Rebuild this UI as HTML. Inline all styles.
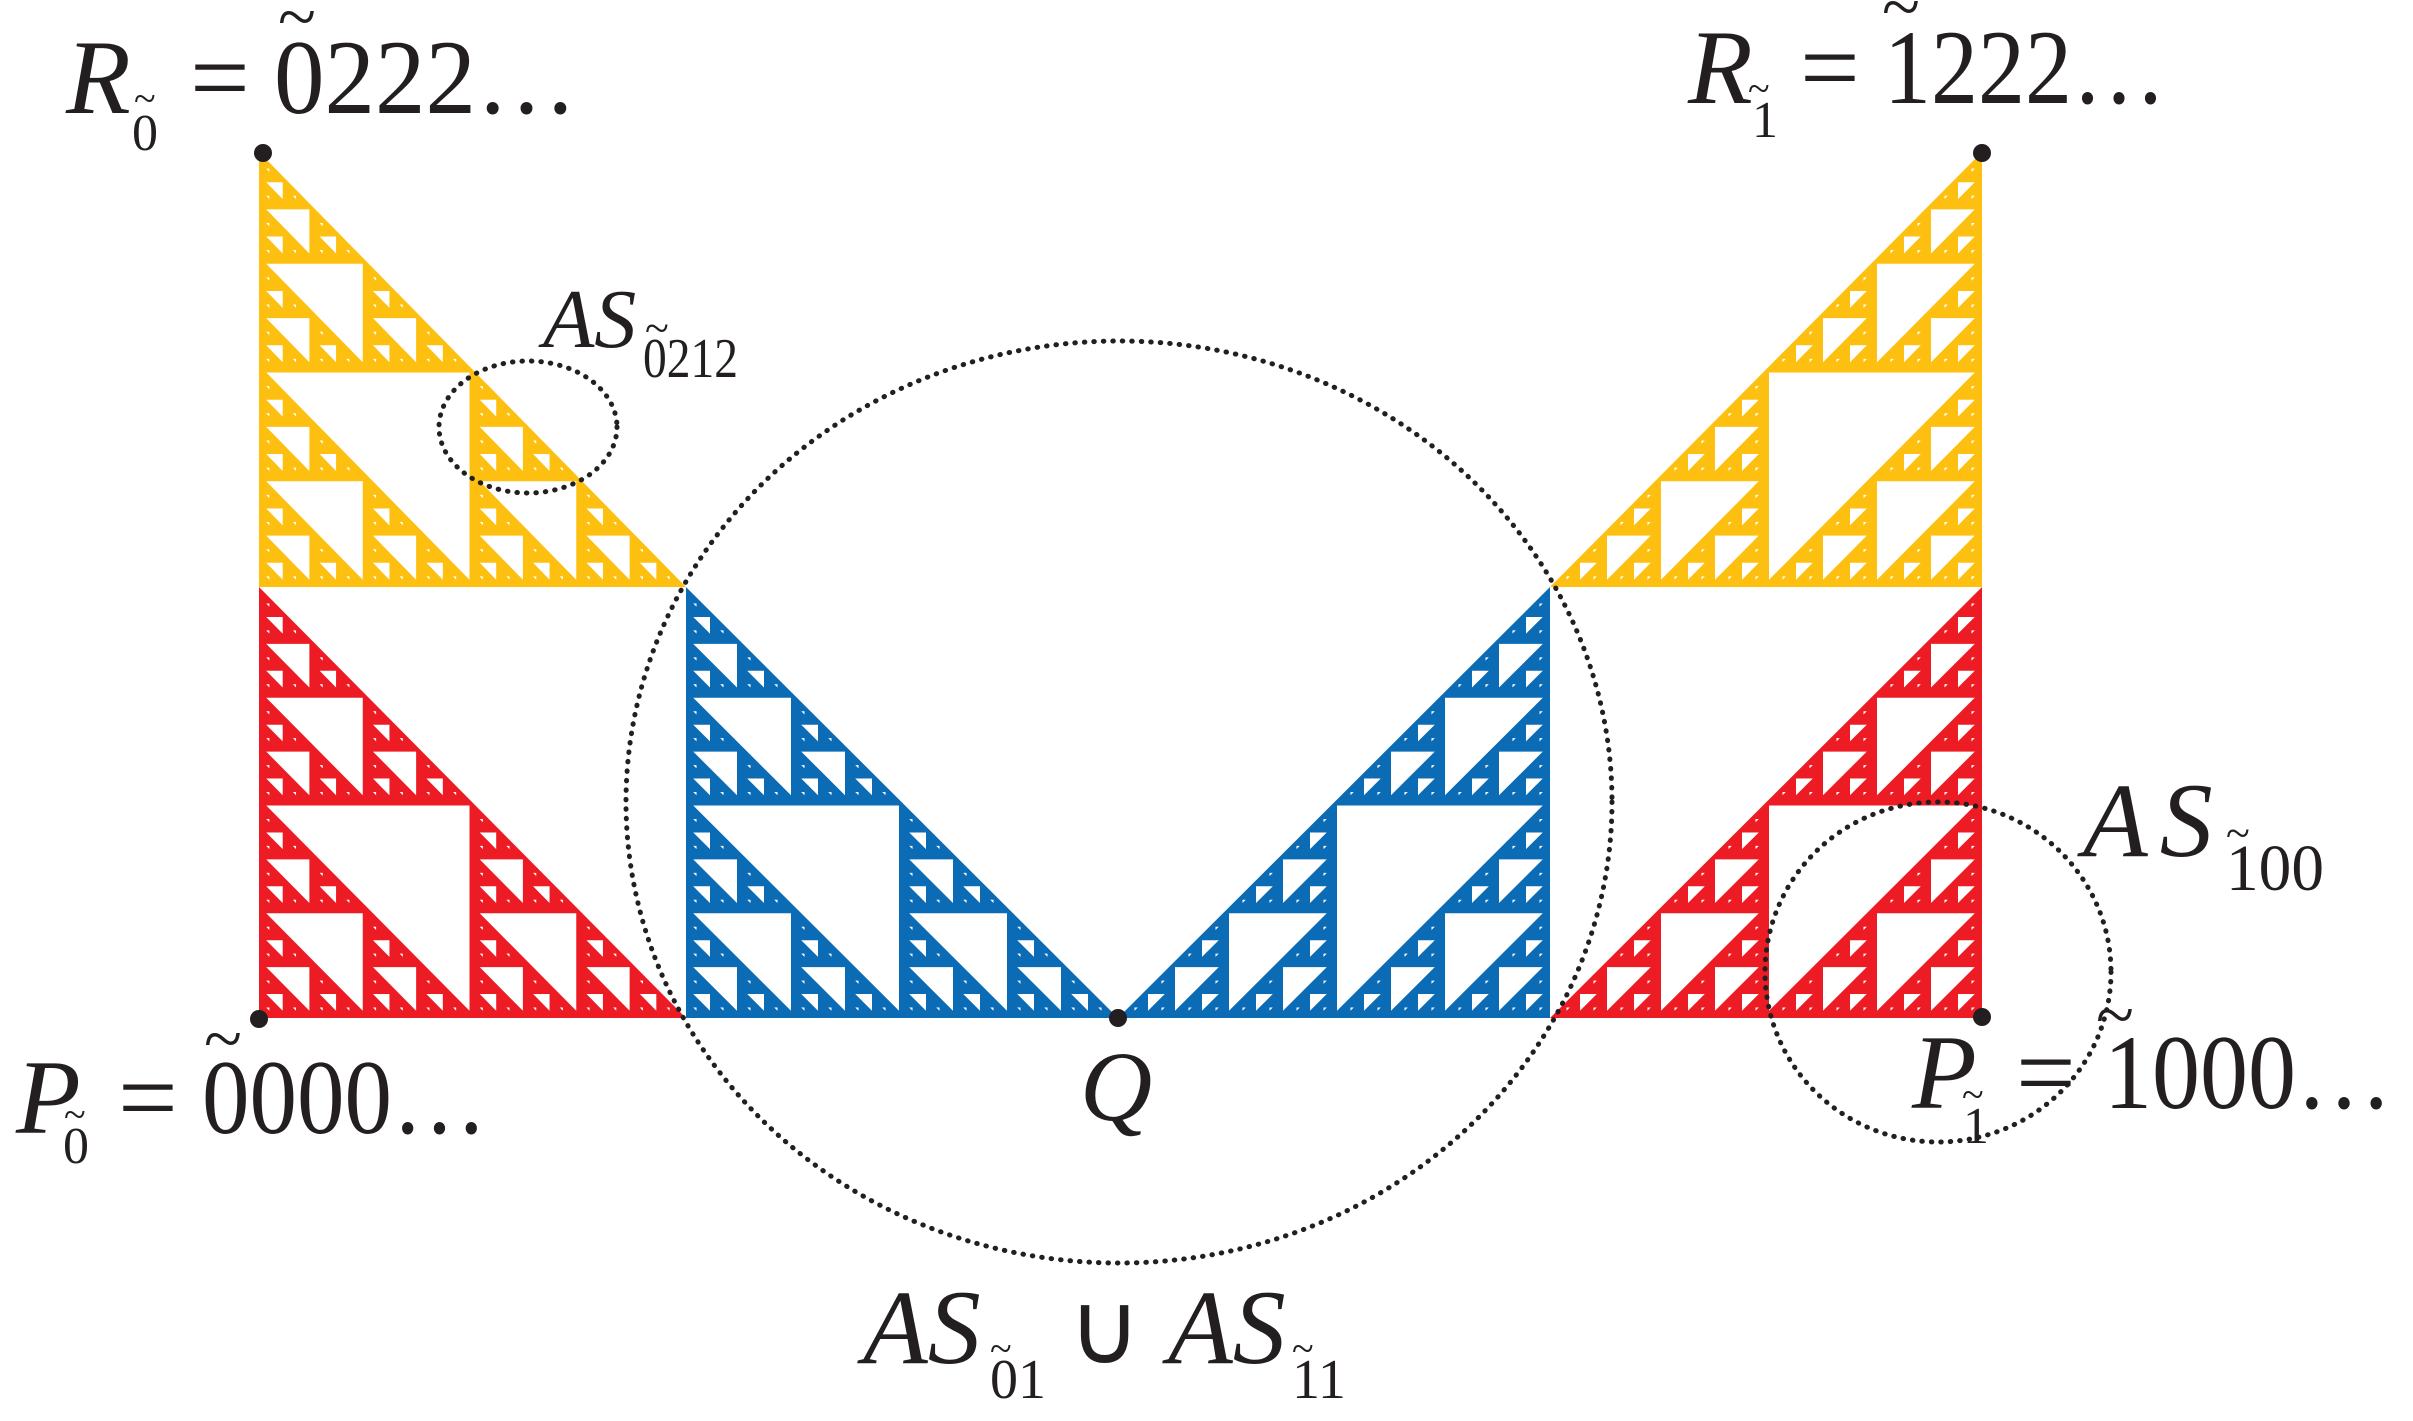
<!DOCTYPE html>
<html><head><meta charset="utf-8">
<style>
html,body{margin:0;padding:0;background:#fff;}
svg{display:block;}
text{font-family:"Liberation Serif","Times New Roman",serif;fill:#231f20;}
.i{font-style:italic;}
</style></head>
<body>
<svg id="s" width="2413" height="1421" viewBox="0 0 2413 1421" xmlns="http://www.w3.org/2000/svg">
<g id="fr"></g>
<g fill="none" stroke="#231f20" stroke-width="5" stroke-linecap="round" stroke-dasharray="0.5 9">
<ellipse cx="528" cy="427" rx="89" ry="66"/>
<ellipse cx="1119" cy="802" rx="493" ry="461"/>
<ellipse cx="1938" cy="972" rx="173" ry="170"/>
</g>
<g fill="#231f20">
<circle cx="263" cy="153" r="9"/>
<circle cx="1982" cy="153" r="9"/>
<circle cx="259" cy="1019" r="9"/>
<circle cx="1118" cy="1018" r="9"/>
<circle cx="1982" cy="1017" r="9"/>
</g>
<!-- R0 -->
<text x="66" y="113" font-size="106" class="i">R</text>
<text x="132" y="150" font-size="52">0</text>
<text x="134" y="112" font-size="40">~</text>
<text x="190" y="113" font-size="106">=</text>
<text x="274" y="113" font-size="106" textLength="303" lengthAdjust="spacingAndGlyphs">0222…</text>
<text x="278" y="40" font-size="70">~</text>
<!-- R1 -->
<text x="1688" y="103" font-size="106" class="i">R</text>
<text x="1752" y="137" font-size="52">1</text>
<text x="1748" y="102" font-size="40">~</text>
<text x="1800" y="103" font-size="106">=</text>
<text x="1884" y="103" font-size="106" textLength="282" lengthAdjust="spacingAndGlyphs">1222…</text>
<text x="1882" y="30" font-size="70">~</text>
<!-- P0 -->
<text x="16" y="1133" font-size="106" class="i">P</text>
<text x="63" y="1163" font-size="52">0</text>
<text x="64" y="1128" font-size="40">~</text>
<text x="118" y="1133" font-size="106">=</text>
<text x="202" y="1133" font-size="106" textLength="285" lengthAdjust="spacingAndGlyphs">0000…</text>
<text x="204" y="1062" font-size="70">~</text>
<!-- P1 -->
<text x="1912" y="1108" font-size="106" class="i">P</text>
<text x="1963" y="1143" font-size="52">1</text>
<text x="1962" y="1108" font-size="40">~</text>
<text x="2016" y="1108" font-size="106">=</text>
<text x="2104" y="1108" font-size="106" textLength="288" lengthAdjust="spacingAndGlyphs">1000…</text>
<text x="2096" y="1038" font-size="70">~</text>
<!-- Q -->
<text x="1080" y="1120" font-size="100" class="i">Q</text>
<!-- AS0212 -->
<text x="543" y="347" font-size="84" class="i">AS</text>
<text x="643" y="377" font-size="56" textLength="95" lengthAdjust="spacingAndGlyphs">0212</text>
<text x="645" y="343" font-size="44">~</text>
<!-- AS100 -->
<text x="2083" y="856" font-size="106" class="i" letter-spacing="12">AS</text>
<text x="2226" y="890" font-size="66" textLength="98" lengthAdjust="spacingAndGlyphs">100</text>
<text x="2226" y="848" font-size="44">~</text>
<!-- AS01 U AS11 -->
<text x="863" y="1363" font-size="106" class="i">AS</text>
<text x="990" y="1398" font-size="56">01</text>
<text x="990" y="1362" font-size="40">~</text>
<text x="1068" y="1363" font-size="100">∪</text>
<text x="1168" y="1363" font-size="106" class="i">AS</text>
<text x="1292" y="1398" font-size="56">11</text>
<text x="1292" y="1362" font-size="40">~</text>
</svg>
<script>
(function(){
var out=[];var d=3,S2=Math.SQRT2;
function tri(x0,y0,x1,y1,color,mir){
  function mx(x){return mir?(x0+x1-x):x;}
  var holes=[];
  function rec(a0,b0,a1,b1,depth){
    var am=(a0+a1)/2,bm=(b0+b1)/2;
    var L=Math.min(am-a0,b1-bm);
    if(L-d*(2+S2)<=0.5) return;
    holes.push([[am-d,bm+d],[a0+d+d*S2,bm+d],[am-d,b1-d-d*S2]]);
    if(depth<=1) return;
    rec(a0,b0,am,bm,depth-1);
    rec(a0,bm,am,b1,depth-1);
    rec(am,bm,a1,b1,depth-1);
  }
  rec(x0,y0,x1,y1,8);
  var s='<polygon fill="'+color+'" points="'+[[x0,y0],[x0,y1],[x1,y1]].map(function(p){return mx(p[0])+','+p[1];}).join(' ')+'"/>';
  s+='<path fill="#fff" d="';
  holes.forEach(function(h){
    s+='M'+h.map(function(p){return mx(p[0]).toFixed(2)+','+p[1].toFixed(2);}).join('L')+'Z';
  });
  s+='"/>';
  out.push(s);
}
var Y='#fdc010',R='#ed1c24',B='#0b6bb4';
tri(259,152,686,587,Y,false);
tri(259,587,686,1018,R,false);
tri(686,587,1118,1018,B,false);
tri(1118,587,1550,1018,B,true);
tri(1550,152,1982,587,Y,true);
tri(1550,587,1982,1018,R,true);
document.getElementById('fr').innerHTML=out.join('');
})();
</script>
</body></html>
